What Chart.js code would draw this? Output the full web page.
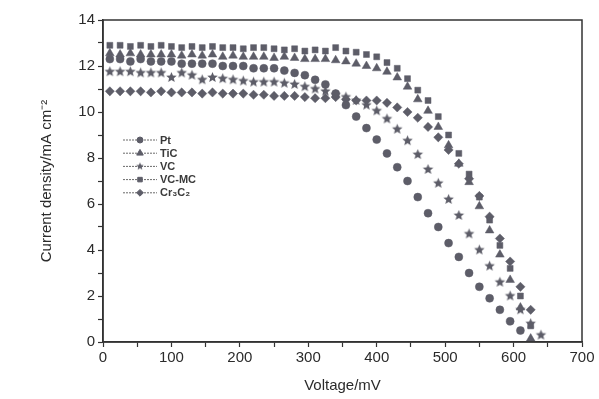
<!DOCTYPE html>
<html>
<head>
<meta charset="utf-8">
<script src="https://cdn.jsdelivr.net/npm/chart.js@4"></script>
<style>
  html, body { margin: 0; padding: 0; background: #fff; }
  #wrap { width: 599px; height: 399px; }
</style>
</head>
<body>
<div id="wrap"><canvas id="myChart" width="599" height="399"></canvas></div>
<script>
// voltage (mV) where points were measured
const voltage = [10, 25, 40, 55, 70, 85, 100, 115, 130, 145, 160, 175, 190, 205, 220, 235, 250, 265, 280, 295,
    310, 325, 340, 355, 370, 385, 400, 415, 430, 445, 460, 475, 490, 505, 520, 535, 550, 565, 580, 595, 610, 625, 640];

// current density (mA cm-2) per counter electrode
const pt = [12.3, 12.3, 12.2, 12.3, 12.2, 12.2, 12.2, 12.1, 12.1, 12.1, 12.1, 12.0, 12.0, 12.0, 11.9, 11.9, 11.9, 11.8, 11.7, 11.6,
    11.4, 11.2, 10.8, 10.3, 9.8, 9.3, 8.8, 8.2, 7.6, 7.0, 6.3, 5.6, 5.0, 4.3, 3.7, 3.0, 2.4, 1.9, 1.4, 0.9, 0.5, null, null];
const tic = [12.55, 12.5, 12.55, 12.5, 12.5, 12.5, 12.5, 12.45, 12.5, 12.45, 12.5, 12.4, 12.45, 12.4, 12.4, 12.4, 12.35, 12.4, 12.35, 12.3,
    12.3, 12.3, 12.25, 12.2, 12.1, 12.0, 11.9, 11.75, 11.5, 11.1, 10.55, 10.05, 9.35, 8.55, 7.75, 6.95, 5.9, 4.85, 3.8, 2.7, 1.5, 0.15, null];
const vc = [11.75, 11.75, 11.75, 11.7, 11.7, 11.7, 11.5, 11.7, 11.6, 11.4, 11.5, 11.45, 11.4, 11.35, 11.3, 11.3, 11.3, 11.25, 11.2, 11.1,
    11.0, 10.9, 10.75, 10.65, 10.5, 10.3, 10.05, 9.7, 9.25, 8.75, 8.15, 7.5, 6.9, 6.2, 5.5, 4.7, 4.0, 3.3, 2.6, 2.0, 1.4, 0.8, 0.3];
const vcmc = [12.9, 12.9, 12.85, 12.9, 12.85, 12.9, 12.85, 12.8, 12.85, 12.8, 12.85, 12.8, 12.8, 12.75, 12.8, 12.8, 12.75, 12.7, 12.75, 12.65,
    12.7, 12.65, 12.8, 12.65, 12.6, 12.5, 12.4, 12.15, 11.9, 11.45, 10.95, 10.5, 9.8, 9.0, 8.2, 7.3, 6.3, 5.3, 4.2, 3.2, 2.0, 0.7, null];
const cr3c2 = [10.9, 10.9, 10.9, 10.9, 10.85, 10.9, 10.85, 10.85, 10.85, 10.8, 10.85, 10.8, 10.8, 10.8, 10.75, 10.75, 10.7, 10.7, 10.7, 10.65,
    10.6, 10.6, 10.65, 10.55, 10.5, 10.5, 10.5, 10.4, 10.2, 10.0, 9.75, 9.35, 8.9, 8.35, 7.75, 7.1, 6.35, 5.45, 4.5, 3.5, 2.4, 1.4, null];

const seriesNames = ['Pt', 'TiC', 'VC', 'VC-MC', 'Cr\u2083C\u2082'];
const xTicks = [0, 100, 200, 300, 400, 500, 600, 700];
const yTicks = [0, 2, 4, 6, 8, 10, 12, 14];

const markColor = '#5d5d68';
const inkColor = '#2b2b2b';

// filled five point star, the built-in 'star' is only strokes
function makeStar(r) {
    const c = document.createElement('canvas');
    const s = Math.ceil(r * 2 + 2);
    c.width = s; c.height = s;
    const g = c.getContext('2d');
    g.fillStyle = markColor;
    g.beginPath();
    for (let i = 0; i < 10; i++) {
        const rad = i % 2 === 0 ? r : r * 0.45;
        const a = -Math.PI / 2 + i * Math.PI / 5;
        const px = s / 2 + rad * Math.cos(a), py = s / 2 + rad * Math.sin(a);
        if (i === 0) g.moveTo(px, py); else g.lineTo(px, py);
    }
    g.closePath();
    g.fill();
    return c;
}
const bigStar = makeStar(5.5);
const smallStar = makeStar(4);

const toPoints = arr => voltage.map((v, i) => ({ x: v, y: arr[i] })).filter(p => p.y !== null);

const mk = (label, arr, style, radius) => ({
    label: label,
    data: toPoints(arr),
    pointStyle: style,
    pointRadius: radius,
    pointHoverRadius: radius,
    pointBackgroundColor: markColor,
    pointBorderColor: markColor,
    pointBorderWidth: 0.5,
    showLine: false
});

const legendStyles = [
    { pointStyle: 'circle', radius: 3 },
    { pointStyle: 'triangle', radius: 3.8 },
    { pointStyle: smallStar, radius: 4 },
    { pointStyle: 'rect', radius: 3.2 },
    { pointStyle: 'rectRot', radius: 3.4 }
];

// legend sits inside the plot, line-marker-line like the figure
const insideLegend = {
    id: 'insideLegend',
    afterDraw(chart) {
        const ctx = chart.ctx;
        ctx.save();
        for (let i = 0; i < seriesNames.length; i++) {
            const y = 140 + i * 13.2;
            ctx.strokeStyle = '#6a6a6a';
            ctx.lineWidth = 1;
            ctx.setLineDash([2, 1]);
            ctx.beginPath();
            ctx.moveTo(123, y);
            ctx.lineTo(157, y);
            ctx.stroke();
            ctx.setLineDash([]);
            ctx.fillStyle = markColor;
            ctx.strokeStyle = markColor;
            Chart.helpers.drawPoint(ctx, { pointStyle: legendStyles[i].pointStyle, radius: legendStyles[i].radius, borderWidth: 0.5, rotation: 0 }, 140, y);
            ctx.fillStyle = '#3a3a3a';
            ctx.font = 'bold 11px "Liberation Sans", Arial, sans-serif';
            ctx.textBaseline = 'middle';
            ctx.fillText(seriesNames[i], 160, y + 0.5);
        }
        ctx.restore();
    }
};

// closes the box on top and right
const frame = {
    id: 'frame',
    afterDraw(chart) {
        const a = chart.chartArea;
        const ctx = chart.ctx;
        ctx.save();
        ctx.strokeStyle = '#333';
        ctx.lineWidth = 1.5;
        ctx.strokeRect(a.left, a.top, a.right - a.left, a.bottom - a.top);
        ctx.restore();
    }
};

const ctx = document.getElementById('myChart').getContext('2d');
const myChart = new Chart(ctx, {
    type: 'scatter',
    data: {
        datasets: [
            mk('Pt', pt, 'circle', 4),
            mk('TiC', tic, 'triangle', 5),
            mk('VC', vc, bigStar, 5),
            mk('VC-MC', vcmc, 'rect', 4.2),
            mk('Cr3C2', cr3c2, 'rectRot', 4.6)
        ]
    },
    options: {
        responsive: false,
        animation: false,
        layout: { padding: { top: 20, right: 17, left: 0, bottom: 0 } },
        plugins: {
            legend: { display: false },
            tooltip: { enabled: false }
        },
        scales: {
            x: {
                type: 'linear',
                min: 0,
                max: 700,
                afterFit: s => { s.height = 57; },
                afterBuildTicks: s => { s.ticks = []; for (let v = 0; v <= 700; v += 50) s.ticks.push({ value: v }); },
                ticks: {
                    autoSkip: false,
                    maxRotation: 0,
                    padding: 2,
                    color: inkColor,
                    font: { family: '"Liberation Sans", Arial, sans-serif', size: 15 },
                    callback: v => xTicks.includes(v) ? String(v) : ''
                },
                grid: { drawOnChartArea: false, tickLength: 5, color: '#333', tickWidth: 1.2 },
                border: { color: '#333', width: 1.5 },
                title: {
                    display: true,
                    text: 'Voltage/mV',
                    color: inkColor,
                    font: { family: '"Liberation Sans", Arial, sans-serif', size: 15 },
                    padding: { top: 8 }
                }
            },
            y: {
                min: 0,
                max: 14,
                afterFit: s => { s.width = 103; },
                afterBuildTicks: s => { s.ticks = []; for (let v = 0; v <= 14; v += 1) s.ticks.push({ value: v }); },
                ticks: {
                    autoSkip: false,
                    padding: 3,
                    color: inkColor,
                    font: { family: '"Liberation Sans", Arial, sans-serif', size: 15 },
                    callback: v => yTicks.includes(v) ? String(v) : ''
                },
                grid: { drawOnChartArea: false, tickLength: 5, color: '#333', tickWidth: 1.2 },
                border: { color: '#333', width: 1.5 },
                title: {
                    display: true,
                    text: 'Current density/mA cm\u207B\u00B2',
                    color: inkColor,
                    font: { family: '"Liberation Sans", Arial, sans-serif', size: 15 },
                    padding: { top: 38, bottom: 0 }
                }
            }
        }
    },
    plugins: [insideLegend, frame]
});
</script>
</body>
</html>
